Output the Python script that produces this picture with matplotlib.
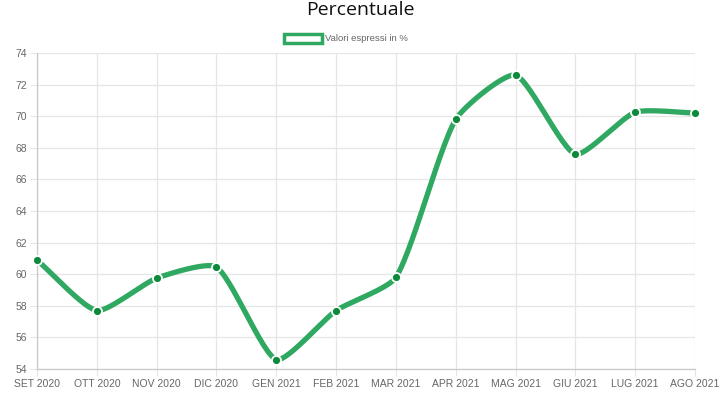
import numpy as np
import matplotlib.pyplot as plt
from matplotlib.patches import Rectangle

# months and percent values
mesi = ['SET 2020', 'OTT 2020', 'NOV 2020', 'DIC 2020', 'GEN 2021', 'FEB 2021',
        'MAR 2021', 'APR 2021', 'MAG 2021', 'GIU 2021', 'LUG 2021', 'AGO 2021']
valori = [60.9, 57.7, 59.75, 60.45, 54.6, 57.7, 59.8, 69.8, 72.6, 67.6, 70.25, 70.2]
y_ticks = list(range(54, 75, 2))

line_col = '#2fa862'
point_col = '#0b8a3c'
grid_col = '#e6e6e6'
text_col = '#666666'

# plot box in pixels (used for the spline, which chart.js computes in pixel space)
W_PX, H_PX = 658, 316
Y0, Y1 = 54, 74


def spline_curve(vals, tension=0.2, n=30):
    # chart.js style bezier: control points along the prev->next direction
    n_pts = len(vals)
    px = np.arange(n_pts) * W_PX / (n_pts - 1)
    py = (np.asarray(vals, float) - Y0) * H_PX / (Y1 - Y0)
    pts = np.column_stack([px, py])
    cp_prev, cp_next = [], []
    for i in range(n_pts):
        prev = pts[max(i - 1, 0)]
        cur = pts[i]
        nxt = pts[min(i + 1, n_pts - 1)]
        d01 = np.hypot(*(cur - prev))
        d12 = np.hypot(*(nxt - cur))
        tot = d01 + d12
        fa = tension * d01 / tot if tot else 0
        fb = tension * d12 / tot if tot else 0
        cp_prev.append(cur - fa * (nxt - prev))
        cp_next.append(cur + fb * (nxt - prev))
    xs, ys = [], []
    t = np.linspace(0, 1, n)[:, None]
    for i in range(n_pts - 1):
        p0, p1, p2, p3 = pts[i], cp_next[i], cp_prev[i + 1], pts[i + 1]
        b = (1 - t)**3 * p0 + 3 * (1 - t)**2 * t * p1 + 3 * (1 - t) * t**2 * p2 + t**3 * p3
        xs.append(b[:, 0])
        ys.append(b[:, 1])
    xs = np.concatenate(xs) * (n_pts - 1) / W_PX
    ys = np.concatenate(ys) * (Y1 - Y0) / H_PX + Y0
    return xs, ys


fig = plt.figure(figsize=(7.2, 3.99), dpi=100)
ax = fig.add_axes([37 / 720, 30 / 399, W_PX / 720, H_PX / 399])

x = np.arange(len(mesi))
xc, yc = spline_curve(valori)
ax.plot(xc, yc, color=line_col, lw=3.8, solid_capstyle='round', zorder=3, clip_on=False)
ax.scatter(x, valori, s=42, color=point_col, edgecolor='white', linewidth=1.3, zorder=4,
           clip_on=False)

ax.set_xlim(0, len(mesi) - 1)
ax.set_ylim(Y0, Y1)
ax.set_xticks(x)
ax.set_xticklabels(mesi, fontsize=7.5, color=text_col, family='Liberation Sans')
ax.set_yticks(y_ticks)
ax.set_yticklabels([str(v) for v in y_ticks], fontsize=7.5, color=text_col, family='Liberation Sans')
ax.grid(True, color=grid_col, lw=0.9)
ax.set_axisbelow(True)
ax.tick_params(axis='both', length=5, color=grid_col, pad=2)
for s in ['top', 'right']:
    ax.spines[s].set_visible(False)
ax.spines['left'].set_color('#c8c8c8')
ax.spines['bottom'].set_color('#c8c8c8')
ax.spines['left'].set_linewidth(0.9)
ax.spines['bottom'].set_linewidth(0.9)

fig.text(0.5, 1 - 10 / 399, 'Percentuale', ha='center', va='center', fontsize=14,
         family='Open Sans', color='#111111')
# legend: green outlined box + label
fig.patches.append(Rectangle((284 / 720, 1 - 43 / 399), 38 / 720, 9 / 399,
                             transform=fig.transFigure, facecolor='white',
                             edgecolor=line_col, lw=2.5))
fig.text(325 / 720, 1 - 38.5 / 399, 'Valori espressi in %', ha='left', va='center',
         fontsize=6.8, color=text_col, family='Liberation Sans')

fig.savefig('out.png', dpi=100, facecolor='white')
